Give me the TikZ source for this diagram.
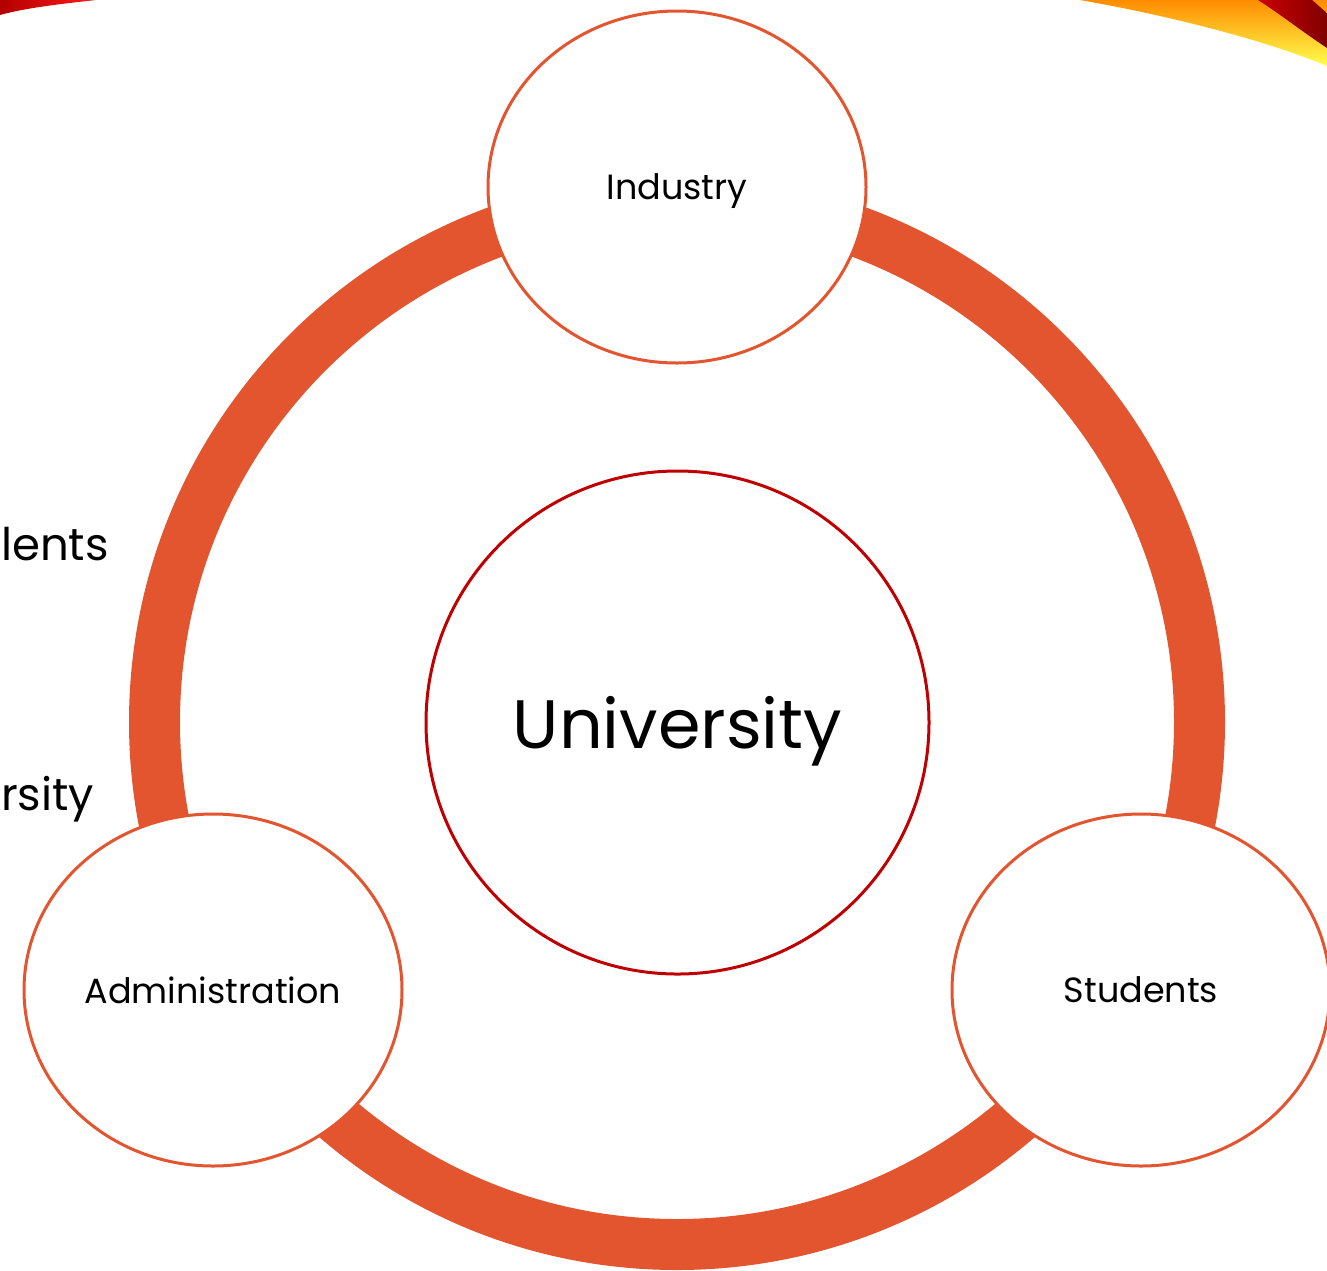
\documentclass[tikz,border=0pt]{standalone}
\usepackage{fontspec}
\setmainfont{Poppins}
\usetikzlibrary{shapes.geometric}
\definecolor{ringorange}{RGB}{227,85,47}
\definecolor{unired}{RGB}{192,0,0}
\tikzstyle{ring} = [draw=ringorange, line width=51pt]
\tikzstyle{member} = [ellipse, draw=ringorange, line width=3pt, fill=white, minimum width=378pt, minimum height=352pt, inner sep=0pt, text depth=0pt, font=\fontsize{35}{40}\selectfont]
\tikzstyle{core} = [circle, draw=unired, line width=3pt, minimum size=503pt, inner sep=0pt, text depth=0pt, font=\fontsize{68.5}{72}\selectfont]
\tikzstyle{behind} = [anchor=base west, inner sep=0pt, font=\fontsize{45}{50}\selectfont]

\begin{document}
\begin{tikzpicture}[x=1pt, y=-1pt]
	\useasboundingbox (0,0) rectangle (1327,1270);

	% corner swooshes of the slide
	\shade[left color=red!70!black, right color=red!90!white] (0,0) -- (96,0) .. controls (60,4) and (25,8) .. (0,15) -- cycle;
	\shade[top color=orange!90!yellow, bottom color=yellow!70!white] (1080,0) .. controls (1160,14) and (1260,38) .. (1327,66) -- (1327,0) -- cycle;
	\shade[left color=red!80!black, right color=red!50!black] (1258,0) -- (1312,0) .. controls (1318,5) and (1322,9) .. (1327,13) -- (1327,48) .. controls (1300,30) and (1280,14) .. (1258,0) -- cycle;

	\node (lents) at (1,560) [behind] {lents};
	\node (rsity) at (1,810) [behind] {rsity};

	\draw[ring] (677,722) circle (522.5);

	\node (industry) at (677,187) [member] {Industry};
	\node (admin) at (213,990) [member] {Administration};
	\node (students) at (1141,990) [member] {Students};

	\node (university) at (677.5,722.5) [core] {University};
\end{tikzpicture}
\end{document}
